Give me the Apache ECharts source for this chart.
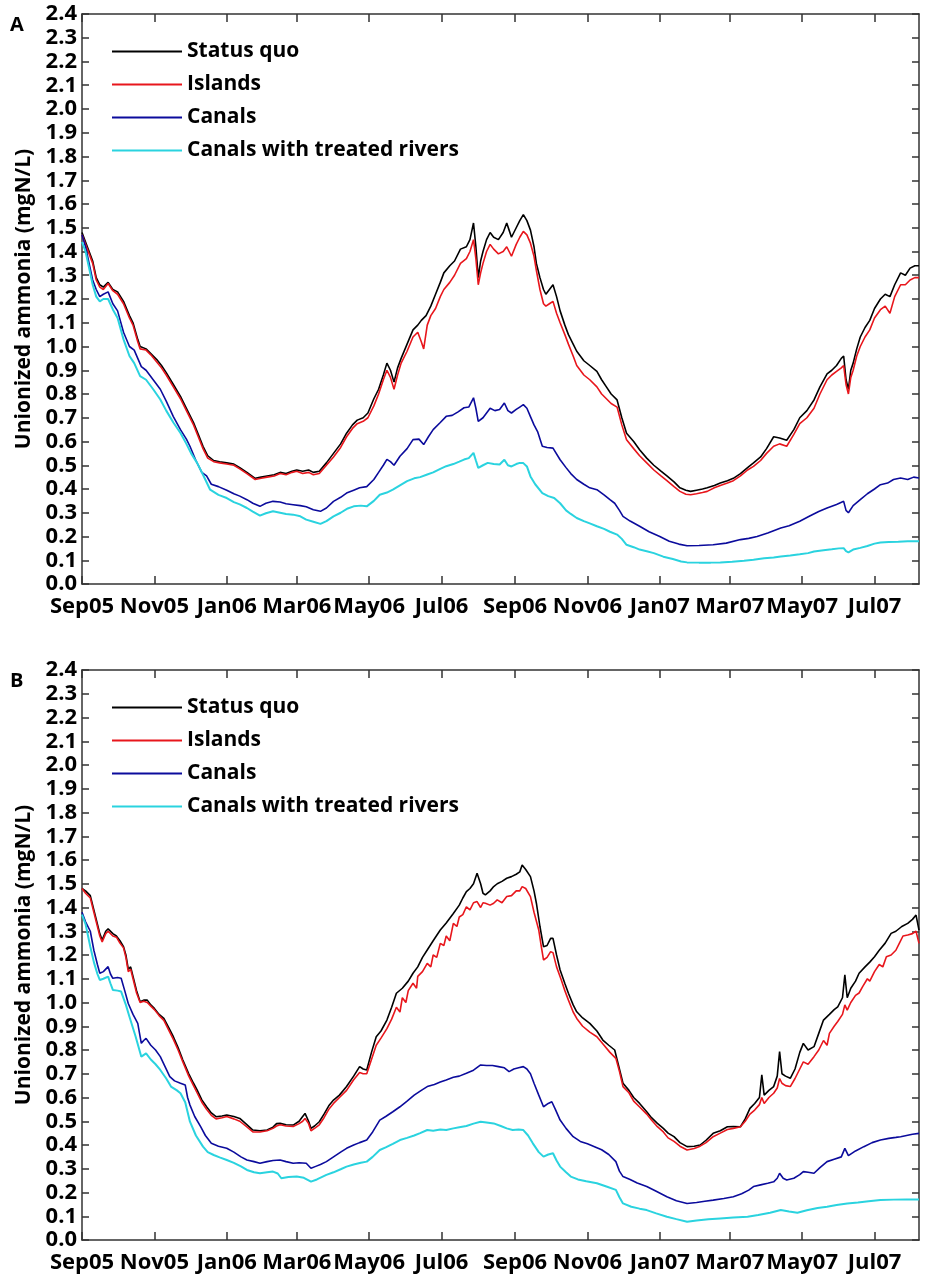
<!DOCTYPE html>
<html>
<head>
<meta charset="utf-8">
<script src="https://cdn.jsdelivr.net/npm/echarts@6/dist/echarts.min.js"></script>
<style>
html,body{margin:0;padding:0;background:#fff;}
#chart{width:935px;height:1286px;}
</style>
</head>
<body>
<div id="chart"></div>
<script>
// x values are days since 1 Sep 2005
const tickDays = [0, 61, 122, 181, 242, 303, 365, 426, 487, 546, 607, 668];
const tickLabels = ['Sep05','Nov05','Jan06','Mar06','May06','Jul06','Sep06','Nov06','Jan07','Mar07','May07','Jul07'];
const xMaxDay = 705.5;
const seriesNames = ['Status quo', 'Islands', 'Canals', 'Canals with treated rivers'];
const seriesColors = ['#000000', '#e8161c', '#0b0b9c', '#2ad3df'];
const yAxisTitle = 'Unionized ammonia (mgN/L)';

// Panel A
const statusQuoA = [[0,1.48],[3,1.44],[6,1.40],[9,1.36],[12,1.29],[15,1.26],[18,1.25],[22,1.27],[26,1.24],[30,1.23],[35,1.19],[40,1.13],[43,1.10],[47,1.03],[49,1.00],[54,0.99],[58,0.97],[63,0.945],[67,0.92],[71,0.89],[77,0.84],[83,0.79],[88,0.74],[94,0.68],[98,0.63],[102,0.58],[106,0.54],[111,0.52],[116,0.515],[122,0.51],[128,0.505],[133,0.49],[139,0.47],[146,0.445],[151,0.45],[156,0.455],[162,0.46],[167,0.47],[172,0.465],[177,0.475],[181,0.48],[186,0.475],[191,0.48],[195,0.47],[200,0.475],[206,0.51],[212,0.55],[218,0.59],[223,0.635],[228,0.67],[232,0.69],[237,0.70],[241,0.72],[246,0.78],[250,0.82],[254,0.88],[257,0.93],[260,0.90],[263,0.85],[266,0.91],[269,0.95],[274,1.01],[279,1.07],[283,1.09],[286,1.11],[290,1.13],[294,1.17],[298,1.22],[302,1.27],[305,1.31],[310,1.34],[314,1.36],[319,1.41],[324,1.42],[327,1.45],[330,1.52],[332,1.42],[334,1.29],[336,1.36],[338,1.40],[341,1.45],[344,1.48],[347,1.46],[351,1.45],[355,1.48],[358,1.52],[360,1.49],[362,1.46],[366,1.50],[369,1.53],[372,1.555],[375,1.53],[378,1.49],[381,1.42],[383,1.35],[386,1.29],[389,1.24],[391,1.22],[394,1.24],[397,1.26],[400,1.21],[403,1.15],[407,1.09],[410,1.05],[414,1.01],[417,0.98],[420,0.96],[423,0.94],[428,0.92],[434,0.895],[438,0.86],[442,0.83],[446,0.80],[451,0.775],[455,0.70],[459,0.635],[465,0.60],[470,0.565],[476,0.53],[482,0.50],[488,0.475],[493,0.455],[499,0.43],[504,0.405],[509,0.395],[513,0.39],[518,0.395],[523,0.40],[527,0.405],[533,0.415],[538,0.425],[544,0.435],[549,0.445],[555,0.465],[561,0.49],[566,0.51],[572,0.535],[577,0.57],[583,0.62],[588,0.615],[594,0.605],[600,0.65],[605,0.70],[611,0.73],[617,0.775],[622,0.83],[628,0.885],[632,0.90],[636,0.92],[640,0.95],[642,0.96],[644,0.86],[646,0.82],[648,0.90],[650,0.93],[653,0.99],[656,1.04],[660,1.08],[664,1.11],[668,1.16],[673,1.20],[677,1.22],[681,1.21],[685,1.26],[690,1.31],[694,1.30],[698,1.33],[702,1.34],[705.5,1.34]];
const islandsA = [[0,1.47],[3,1.43],[6,1.39],[9,1.35],[12,1.28],[15,1.25],[18,1.24],[22,1.265],[26,1.235],[30,1.22],[35,1.18],[40,1.12],[43,1.09],[47,1.02],[49,0.99],[54,0.985],[58,0.965],[63,0.935],[67,0.91],[71,0.88],[77,0.83],[83,0.78],[88,0.73],[94,0.67],[98,0.62],[102,0.57],[106,0.53],[111,0.515],[116,0.51],[122,0.505],[128,0.50],[133,0.485],[139,0.465],[146,0.44],[151,0.445],[156,0.45],[162,0.455],[167,0.465],[172,0.46],[177,0.47],[181,0.475],[186,0.465],[191,0.47],[195,0.46],[200,0.465],[206,0.50],[212,0.535],[218,0.575],[223,0.62],[228,0.655],[232,0.675],[237,0.685],[241,0.70],[246,0.75],[250,0.80],[254,0.86],[257,0.90],[260,0.87],[263,0.82],[266,0.88],[269,0.93],[274,0.98],[279,1.04],[283,1.06],[286,1.02],[288,0.99],[291,1.09],[294,1.13],[298,1.16],[302,1.21],[305,1.24],[310,1.27],[314,1.30],[319,1.35],[324,1.37],[327,1.40],[330,1.45],[332,1.37],[334,1.26],[336,1.31],[338,1.35],[341,1.40],[344,1.43],[347,1.41],[351,1.39],[355,1.40],[358,1.42],[360,1.40],[362,1.38],[366,1.43],[369,1.46],[372,1.485],[375,1.47],[378,1.435],[381,1.38],[383,1.32],[386,1.24],[389,1.18],[391,1.17],[394,1.18],[397,1.19],[400,1.14],[403,1.10],[407,1.05],[410,1.01],[414,0.96],[417,0.92],[420,0.90],[423,0.88],[428,0.86],[434,0.83],[438,0.80],[442,0.78],[446,0.76],[451,0.745],[455,0.67],[459,0.607],[465,0.57],[470,0.54],[476,0.51],[482,0.48],[488,0.455],[493,0.435],[499,0.41],[504,0.39],[509,0.378],[513,0.376],[518,0.38],[523,0.385],[527,0.39],[533,0.405],[538,0.415],[544,0.425],[549,0.435],[555,0.455],[561,0.48],[566,0.495],[572,0.52],[577,0.55],[583,0.58],[588,0.59],[594,0.58],[600,0.63],[605,0.675],[611,0.70],[617,0.74],[622,0.80],[628,0.86],[632,0.88],[636,0.895],[640,0.91],[642,0.92],[644,0.84],[646,0.80],[648,0.87],[650,0.90],[653,0.96],[656,1.00],[660,1.04],[664,1.07],[668,1.12],[673,1.155],[677,1.17],[681,1.14],[685,1.21],[690,1.26],[694,1.26],[698,1.28],[702,1.29],[705.5,1.29]];
const canalsA = [[0,1.47],[3,1.42],[6,1.35],[9,1.28],[12,1.24],[15,1.21],[18,1.22],[22,1.23],[26,1.18],[30,1.15],[35,1.06],[40,1.00],[44,0.985],[47,0.95],[50,0.915],[54,0.90],[60,0.86],[66,0.82],[71,0.77],[77,0.705],[83,0.65],[88,0.61],[91,0.58],[96,0.52],[101,0.47],[105,0.455],[109,0.42],[115,0.41],[122,0.395],[128,0.38],[133,0.37],[139,0.355],[144,0.34],[150,0.327],[155,0.34],[161,0.348],[167,0.345],[172,0.338],[178,0.334],[184,0.33],[189,0.325],[195,0.313],[201,0.306],[206,0.32],[212,0.348],[218,0.365],[223,0.383],[229,0.395],[234,0.405],[240,0.41],[246,0.44],[250,0.47],[254,0.50],[257,0.525],[260,0.515],[263,0.50],[268,0.538],[274,0.57],[279,0.608],[284,0.61],[288,0.587],[292,0.62],[296,0.65],[302,0.68],[307,0.706],[312,0.71],[317,0.725],[322,0.742],[326,0.745],[330,0.784],[332,0.74],[334,0.685],[338,0.70],[341,0.72],[344,0.74],[348,0.73],[352,0.735],[356,0.762],[359,0.73],[362,0.72],[366,0.735],[369,0.745],[372,0.755],[375,0.74],[378,0.705],[381,0.67],[384,0.642],[388,0.58],[392,0.575],[397,0.572],[403,0.523],[408,0.49],[412,0.465],[417,0.44],[423,0.42],[428,0.405],[434,0.397],[440,0.375],[445,0.355],[449,0.34],[453,0.31],[456,0.285],[462,0.265],[470,0.243],[478,0.22],[487,0.20],[495,0.18],[503,0.168],[510,0.161],[520,0.162],[532,0.165],[543,0.172],[555,0.187],[562,0.192],[569,0.20],[578,0.215],[589,0.236],[596,0.245],[605,0.264],[613,0.285],[621,0.305],[628,0.32],[636,0.335],[642,0.348],[644,0.31],[646,0.30],[650,0.33],[656,0.355],[662,0.38],[668,0.40],[673,0.418],[679,0.425],[684,0.44],[690,0.446],[696,0.44],[701,0.45],[705.5,0.446]];
const treatedA = [[0,1.44],[3,1.40],[6,1.33],[9,1.26],[12,1.21],[15,1.19],[18,1.20],[22,1.20],[26,1.156],[30,1.12],[35,1.03],[40,0.96],[44,0.93],[49,0.875],[54,0.86],[60,0.82],[66,0.777],[71,0.73],[77,0.68],[83,0.636],[88,0.59],[92,0.55],[97,0.51],[102,0.46],[108,0.397],[115,0.375],[122,0.362],[128,0.345],[133,0.335],[139,0.32],[144,0.305],[150,0.288],[155,0.298],[161,0.306],[167,0.30],[172,0.295],[178,0.292],[184,0.285],[189,0.271],[195,0.262],[201,0.253],[206,0.265],[212,0.285],[218,0.30],[224,0.318],[229,0.327],[235,0.33],[240,0.327],[246,0.35],[251,0.376],[257,0.385],[262,0.397],[268,0.415],[274,0.433],[280,0.445],[285,0.45],[291,0.461],[296,0.47],[302,0.485],[307,0.496],[313,0.505],[318,0.515],[322,0.524],[326,0.53],[330,0.552],[332,0.52],[334,0.489],[338,0.50],[342,0.51],[347,0.505],[352,0.503],[356,0.523],[359,0.50],[362,0.495],[366,0.505],[369,0.51],[372,0.509],[375,0.495],[378,0.453],[382,0.42],[388,0.383],[393,0.37],[398,0.362],[403,0.34],[408,0.31],[412,0.295],[417,0.278],[423,0.265],[428,0.255],[434,0.243],[440,0.232],[445,0.22],[451,0.208],[455,0.19],[459,0.165],[465,0.155],[470,0.145],[476,0.138],[482,0.13],[490,0.115],[498,0.105],[505,0.095],[510,0.091],[520,0.09],[530,0.09],[538,0.091],[548,0.094],[558,0.098],[566,0.102],[575,0.108],[583,0.112],[589,0.116],[597,0.12],[605,0.125],[612,0.13],[617,0.137],[625,0.142],[632,0.146],[638,0.15],[642,0.151],[644,0.138],[646,0.133],[650,0.145],[656,0.152],[662,0.16],[668,0.17],[673,0.175],[680,0.177],[688,0.178],[696,0.18],[705.5,0.18]];

// Panel B
const statusQuoB = [[0,1.48],[3,1.47],[7,1.45],[10,1.39],[12,1.35],[15,1.29],[17,1.263],[20,1.30],[22,1.31],[26,1.29],[29,1.28],[32,1.26],[35,1.235],[37,1.20],[39,1.14],[41,1.15],[43,1.11],[46,1.05],[49,1.003],[52,1.01],[55,1.01],[58,0.99],[61,0.975],[65,0.95],[69,0.933],[73,0.895],[77,0.856],[81,0.81],[85,0.758],[90,0.70],[94,0.66],[97,0.632],[101,0.59],[105,0.561],[109,0.535],[113,0.519],[118,0.522],[122,0.526],[128,0.52],[133,0.512],[138,0.49],[144,0.463],[150,0.46],[156,0.463],[161,0.475],[164,0.49],[167,0.491],[172,0.485],[178,0.484],[183,0.50],[186,0.52],[188,0.533],[191,0.50],[193,0.47],[196,0.48],[200,0.498],[204,0.53],[208,0.565],[212,0.589],[217,0.61],[223,0.646],[229,0.69],[234,0.73],[237,0.72],[240,0.716],[244,0.79],[248,0.856],[252,0.88],[257,0.926],[261,0.98],[265,1.039],[270,1.06],[275,1.09],[279,1.123],[283,1.15],[287,1.19],[291,1.221],[296,1.26],[302,1.305],[307,1.335],[313,1.375],[318,1.41],[321,1.44],[324,1.467],[327,1.48],[330,1.50],[333,1.544],[336,1.50],[338,1.46],[340,1.453],[344,1.47],[347,1.488],[350,1.50],[354,1.51],[358,1.523],[362,1.53],[366,1.54],[369,1.55],[371,1.579],[374,1.56],[378,1.53],[381,1.47],[383,1.418],[386,1.32],[389,1.235],[392,1.24],[395,1.27],[397,1.27],[400,1.20],[403,1.137],[407,1.08],[410,1.039],[414,0.99],[417,0.961],[422,0.935],[428,0.912],[434,0.88],[439,0.842],[444,0.82],[449,0.80],[451,0.76],[454,0.70],[456,0.66],[461,0.63],[465,0.60],[470,0.575],[476,0.54],[480,0.515],[485,0.491],[490,0.47],[494,0.45],[499,0.435],[504,0.41],[510,0.393],[516,0.395],[521,0.40],[526,0.42],[532,0.449],[538,0.46],[544,0.477],[549,0.478],[555,0.477],[559,0.51],[563,0.554],[567,0.575],[571,0.60],[573,0.695],[575,0.61],[579,0.63],[583,0.646],[586,0.69],[588,0.793],[590,0.70],[593,0.69],[597,0.681],[601,0.72],[605,0.79],[608,0.828],[612,0.80],[617,0.814],[621,0.87],[625,0.926],[630,0.95],[634,0.97],[637,0.982],[641,1.02],[643,1.116],[645,1.02],[648,1.06],[652,1.09],[655,1.123],[660,1.15],[664,1.17],[668,1.193],[672,1.22],[677,1.25],[682,1.291],[686,1.30],[691,1.32],[696,1.333],[700,1.35],[703,1.368],[705.5,1.305]];
const islandsB = [[0,1.48],[3,1.46],[7,1.44],[10,1.38],[12,1.34],[15,1.28],[17,1.255],[20,1.29],[22,1.30],[26,1.28],[29,1.275],[32,1.25],[35,1.23],[37,1.19],[39,1.13],[41,1.14],[43,1.10],[46,1.04],[49,1.00],[52,1.005],[55,1.0],[58,0.985],[61,0.97],[65,0.945],[69,0.925],[73,0.885],[77,0.845],[81,0.80],[85,0.75],[90,0.69],[94,0.65],[97,0.62],[101,0.58],[105,0.55],[109,0.525],[113,0.51],[118,0.515],[122,0.52],[128,0.51],[133,0.50],[138,0.48],[144,0.455],[150,0.455],[156,0.46],[161,0.47],[164,0.48],[167,0.485],[172,0.48],[178,0.478],[183,0.49],[186,0.50],[188,0.512],[191,0.49],[193,0.46],[196,0.47],[200,0.485],[204,0.515],[208,0.55],[212,0.575],[217,0.60],[223,0.63],[229,0.675],[234,0.705],[237,0.70],[240,0.70],[244,0.76],[248,0.82],[252,0.85],[257,0.89],[261,0.93],[265,0.98],[268,0.96],[270,1.02],[273,1.00],[275,1.05],[279,1.081],[282,1.06],[283,1.11],[287,1.13],[291,1.165],[294,1.15],[296,1.20],[299,1.19],[302,1.249],[305,1.24],[307,1.28],[310,1.26],[313,1.333],[316,1.32],[318,1.36],[321,1.37],[324,1.403],[327,1.39],[330,1.42],[333,1.425],[336,1.40],[338,1.42],[340,1.418],[344,1.41],[347,1.418],[350,1.432],[354,1.42],[358,1.446],[362,1.45],[366,1.47],[369,1.47],[371,1.488],[374,1.48],[378,1.446],[381,1.38],[385,1.305],[387,1.24],[389,1.179],[392,1.19],[395,1.214],[397,1.21],[400,1.15],[404,1.095],[407,1.05],[410,1.01],[414,0.96],[417,0.933],[422,0.90],[428,0.875],[434,0.856],[440,0.82],[445,0.79],[450,0.765],[453,0.71],[456,0.646],[461,0.62],[465,0.585],[470,0.56],[476,0.53],[480,0.505],[485,0.477],[490,0.455],[494,0.43],[499,0.415],[504,0.395],[510,0.379],[516,0.385],[521,0.395],[526,0.41],[532,0.435],[538,0.45],[544,0.465],[549,0.47],[555,0.477],[559,0.50],[563,0.53],[567,0.547],[571,0.57],[573,0.60],[575,0.575],[579,0.60],[583,0.618],[586,0.64],[588,0.68],[590,0.66],[593,0.65],[597,0.646],[601,0.68],[605,0.72],[608,0.75],[612,0.74],[617,0.772],[621,0.80],[625,0.84],[628,0.82],[630,0.87],[634,0.90],[637,0.92],[641,0.95],[643,0.99],[645,0.968],[648,1.00],[652,1.03],[655,1.04],[658,1.067],[662,1.10],[664,1.09],[668,1.13],[672,1.16],[675,1.15],[678,1.193],[682,1.20],[686,1.22],[689,1.25],[692,1.28],[696,1.284],[700,1.29],[703,1.30],[705.5,1.249]];
const canalsB = [[0,1.38],[3,1.34],[7,1.30],[10,1.22],[13,1.16],[15,1.123],[18,1.13],[22,1.151],[24,1.12],[26,1.102],[30,1.105],[33,1.102],[36,1.05],[39,0.996],[43,0.95],[47,0.912],[50,0.828],[52,0.84],[54,0.849],[58,0.82],[62,0.80],[66,0.772],[70,0.73],[74,0.688],[78,0.67],[83,0.66],[87,0.653],[89,0.60],[91,0.568],[95,0.52],[100,0.477],[104,0.44],[109,0.407],[115,0.395],[122,0.386],[128,0.37],[134,0.35],[139,0.337],[145,0.33],[150,0.323],[156,0.33],[161,0.335],[167,0.337],[172,0.33],[178,0.323],[183,0.325],[189,0.323],[193,0.302],[197,0.31],[201,0.318],[206,0.33],[212,0.35],[218,0.37],[223,0.386],[229,0.40],[234,0.41],[240,0.421],[245,0.455],[251,0.505],[256,0.52],[262,0.54],[268,0.561],[274,0.585],[280,0.61],[286,0.63],[291,0.646],[297,0.655],[302,0.665],[307,0.674],[313,0.685],[318,0.69],[324,0.702],[330,0.715],[336,0.737],[341,0.735],[346,0.735],[351,0.73],[356,0.725],[360,0.709],[364,0.72],[368,0.725],[372,0.73],[375,0.72],[378,0.70],[381,0.66],[385,0.61],[389,0.561],[393,0.575],[396,0.582],[399,0.55],[403,0.505],[408,0.47],[414,0.435],[420,0.415],[426,0.405],[432,0.393],[438,0.38],[444,0.36],[450,0.33],[453,0.29],[456,0.267],[462,0.255],[468,0.24],[476,0.225],[484,0.205],[493,0.182],[501,0.165],[510,0.154],[518,0.158],[525,0.163],[532,0.168],[541,0.175],[549,0.182],[556,0.195],[562,0.21],[566,0.225],[572,0.232],[578,0.239],[583,0.245],[586,0.26],[588,0.281],[591,0.26],[594,0.253],[600,0.26],[605,0.275],[608,0.288],[612,0.285],[617,0.281],[622,0.305],[628,0.33],[634,0.34],[640,0.35],[643,0.386],[646,0.355],[652,0.375],[659,0.393],[666,0.41],[673,0.421],[680,0.428],[686,0.432],[690,0.435],[695,0.44],[700,0.445],[705.5,0.449]];
const treatedB = [[0,1.37],[3,1.33],[7,1.235],[10,1.17],[13,1.12],[15,1.095],[18,1.10],[22,1.109],[24,1.08],[26,1.053],[30,1.05],[33,1.046],[37,0.99],[40,0.94],[45,0.86],[50,0.772],[54,0.786],[58,0.76],[62,0.74],[66,0.716],[71,0.68],[75,0.646],[80,0.63],[83,0.618],[87,0.58],[91,0.498],[96,0.44],[102,0.393],[106,0.37],[111,0.358],[116,0.348],[122,0.337],[128,0.325],[134,0.31],[139,0.295],[145,0.285],[150,0.281],[156,0.285],[161,0.288],[165,0.28],[168,0.26],[174,0.265],[181,0.267],[187,0.262],[193,0.246],[198,0.255],[206,0.274],[212,0.285],[218,0.298],[223,0.309],[229,0.318],[235,0.325],[240,0.33],[245,0.35],[251,0.379],[256,0.39],[262,0.405],[268,0.421],[274,0.43],[280,0.44],[285,0.45],[291,0.463],[296,0.46],[302,0.465],[307,0.463],[313,0.47],[318,0.475],[324,0.48],[330,0.49],[336,0.498],[341,0.495],[347,0.491],[353,0.48],[358,0.47],[363,0.463],[368,0.465],[372,0.463],[376,0.44],[380,0.407],[385,0.37],[389,0.351],[393,0.36],[397,0.365],[400,0.335],[403,0.309],[408,0.285],[412,0.267],[418,0.255],[425,0.247],[434,0.239],[442,0.225],[450,0.211],[453,0.18],[456,0.154],[463,0.14],[470,0.132],[476,0.126],[484,0.112],[493,0.098],[501,0.088],[510,0.077],[518,0.082],[528,0.087],[538,0.091],[549,0.095],[561,0.098],[570,0.105],[580,0.115],[589,0.126],[596,0.12],[603,0.115],[611,0.125],[620,0.135],[628,0.14],[636,0.147],[645,0.154],[654,0.158],[663,0.163],[673,0.168],[684,0.17],[695,0.171],[705.5,0.171]];

const panelData = [
  [statusQuoA, islandsA, canalsA, treatedA],
  [statusQuoB, islandsB, canalsB, treatedB]
];
const panelLetters = ['A', 'B'];

const FONT = '"Open Sans", "Noto Sans", sans-serif';
const AXIS_COLOR = '#333333';
const gridTops = [14, 670];
const gridH = 570;

const chart = echarts.init(document.getElementById('chart'), null, {renderer: 'canvas'});

const grids = [], xAxes = [], yAxes = [], series = [], legends = [], titles = [];
gridTops.forEach((top, p) => {
  grids.push({left: 82, right: 16, top: top, height: gridH, show: false});
  const baseX = {
    type: 'value', gridIndex: p, min: 0, max: xMaxDay,
    axisLine: {show: true, onZero: false, lineStyle: {color: AXIS_COLOR, width: 1.5}},
    splitLine: {show: false}
  };
  xAxes.push(Object.assign({}, baseX, {
    position: 'bottom',
    axisTick: {show: true, inside: true, length: 8, customValues: tickDays, lineStyle: {color: AXIS_COLOR, width: 1.5}},
    axisLabel: {show: true, customValues: tickDays, margin: 12, color: '#000', fontFamily: FONT, fontWeight: 'bold', fontSize: 22,
      formatter: v => { const i = tickDays.indexOf(Math.round(v)); return i >= 0 ? tickLabels[i] : ''; }}
  }));
  xAxes.push(Object.assign({}, baseX, {
    position: 'top',
    axisTick: {show: true, inside: true, length: 8, customValues: tickDays, lineStyle: {color: AXIS_COLOR, width: 1.5}},
    axisLabel: {show: false}
  }));
  const baseY = {
    type: 'value', gridIndex: p, min: 0, max: 2.4, interval: 0.1,
    axisLine: {show: true, onZero: false, lineStyle: {color: AXIS_COLOR, width: 1.5}},
    axisTick: {show: true, inside: true, length: 7, lineStyle: {color: AXIS_COLOR, width: 1.5}},
    splitLine: {show: false}
  };
  yAxes.push(Object.assign({}, baseY, {
    position: 'left',
    name: yAxisTitle, nameLocation: 'middle', nameGap: 47, nameRotate: 90,
    nameTextStyle: {color: '#000', fontFamily: FONT, fontWeight: 'bold', fontSize: 21},
    axisLabel: {show: true, margin: 5, color: '#000', fontFamily: FONT, fontWeight: 'bold', fontSize: 22,
      formatter: v => v.toFixed(1)}
  }));
  yAxes.push(Object.assign({}, baseY, {position: 'right', axisLabel: {show: false}}));

  panelData[p].forEach((d, s) => {
    series.push({
      name: seriesNames[s], type: 'line', xAxisIndex: p * 2, yAxisIndex: p * 2,
      data: d, showSymbol: false, symbol: 'none', animation: false,
      lineStyle: {color: seriesColors[s], width: s === 3 ? 2 : 1.6},
      itemStyle: {color: seriesColors[s]}, z: 2 + s
    });
  });

  legends.push({
    orient: 'vertical', left: 107, top: top + 22, itemWidth: 70, itemHeight: 14, itemGap: 12,
    icon: 'path://M0,0 L70,0 L70,2 L0,2 Z',
    data: seriesNames,
    textStyle: {color: '#000', fontFamily: FONT, fontWeight: 'bold', fontSize: 21}
  });
  titles.push({
    text: panelLetters[p], left: 5, top: top - 4,
    textStyle: {color: '#000', fontFamily: FONT, fontWeight: 'bold', fontSize: 20}
  });
});

chart.setOption({
  backgroundColor: '#ffffff',
  animation: false,
  title: titles,
  grid: grids,
  xAxis: xAxes,
  yAxis: yAxes,
  legend: legends,
  series: series
});
</script>
</body>
</html>
